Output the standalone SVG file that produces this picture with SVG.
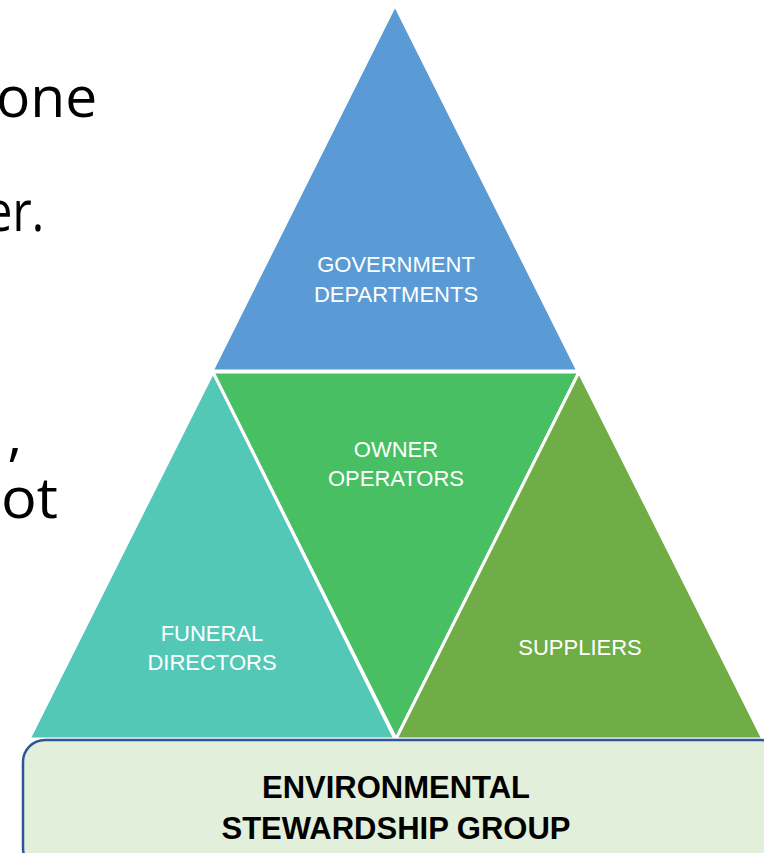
<svg xmlns="http://www.w3.org/2000/svg" width="764" height="853" viewBox="0 0 764 853">
<style>
.side{font-family:"Open Sans","Liberation Sans",sans-serif;font-size:57px;fill:#000}
.lbl{font-family:"Liberation Sans","Open Sans",sans-serif;font-size:22px;fill:#fff;text-anchor:middle}
.tri{stroke:#fff;stroke-width:3;stroke-linejoin:miter}
.base{font-family:"Liberation Sans",sans-serif;font-size:31px;font-weight:bold;fill:#000;text-anchor:middle}
</style>
<rect width="764" height="853" fill="#fff"/>
<g id="side-text">
<text class="side" x="-4" y="117">one</text>
<text class="side" x="-14" y="231" textLength="58" lengthAdjust="spacingAndGlyphs">er.</text>
<text class="side" x="9" y="489">’</text>
<text class="side" x="1" y="518" textLength="57" lengthAdjust="spacingAndGlyphs">ot</text>
</g>
<g id="government">
<polygon class="tri" points="395,5 578,371 212,371" fill="#5B9BD5"/>
<text class="lbl" x="396" y="272">GOVERNMENT</text>
<text class="lbl" x="396" y="302">DEPARTMENTS</text>
</g>
<g id="funeral">
<polygon class="tri" points="213,372 395,739 29,739" fill="#53C8B7"/>
<text class="lbl" x="212" y="641">FUNERAL</text>
<text class="lbl" x="212" y="670">DIRECTORS</text>
</g>
<g id="owners">
<polygon class="tri" points="213,372 579,372 396,739" fill="#48BF63"/>
<text class="lbl" x="396" y="457">OWNER</text>
<text class="lbl" x="396" y="486">OPERATORS</text>
</g>
<g id="suppliers">
<polygon class="tri" points="579,372 763,739 396,739" fill="#70AD47"/>
<text class="lbl" x="580" y="655">SUPPLIERS</text>
</g>
<g id="connectors"></g>
<g id="stewardship">
<rect x="23" y="740" width="760" height="130" rx="22" ry="22" fill="#E2EFDA" stroke="#2F5597" stroke-width="2.5"/>
<text class="base" x="396" y="798">ENVIRONMENTAL</text>
<text class="base" x="396" y="839">STEWARDSHIP GROUP</text>
</g>
</svg>
